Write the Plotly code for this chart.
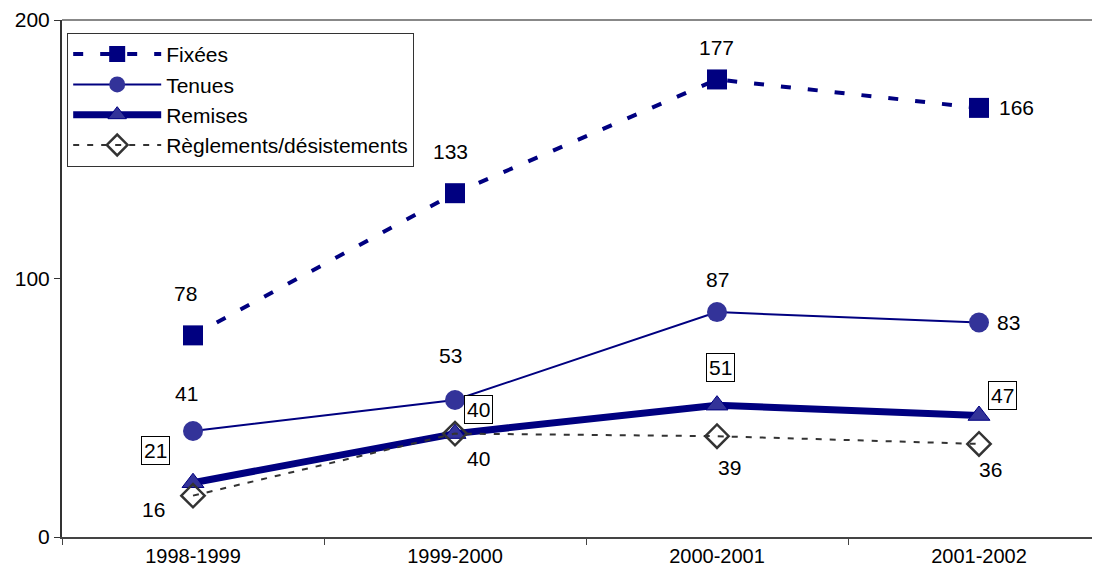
import plotly.graph_objects as go

categories = ["1998-1999", "1999-2000", "2000-2001", "2001-2002"]
fixees = [78, 133, 177, 166]
tenues = [41, 53, 87, 83]
remises = [21, 40, 51, 47]
reglements = [16, 40, 39, 36]
y_ticks = [0, 100, 200]

NAVY = "#000080"
BLUE = "#333399"
DARK = "#333333"
FONT = "Liberation Sans, Arial, sans-serif"

fig = go.Figure()
fig.add_trace(go.Scatter(
    x=categories, y=fixees, name="Fixées", mode="lines+markers",
    line=dict(color=NAVY, width=4, dash="10px,17px"),
    marker=dict(symbol="square", size=20, color=NAVY)))
fig.add_trace(go.Scatter(
    x=categories, y=tenues, name="Tenues", mode="lines+markers",
    line=dict(color=NAVY, width=2),
    marker=dict(symbol="circle", size=20, color=BLUE)))
fig.add_trace(go.Scatter(
    x=categories, y=remises, name="Remises", mode="lines+markers",
    line=dict(color=NAVY, width=7),
    marker=dict(symbol="triangle-up", size=19, color=BLUE, line=dict(color=NAVY, width=1))))
fig.add_trace(go.Scatter(
    x=categories, y=reglements, name="Règlements/désistements", mode="lines+markers",
    line=dict(color=DARK, width=2, dash="6px,8px"),
    marker=dict(symbol="diamond-open", size=18, color=DARK, line=dict(color=DARK, width=2.5))))

# label offsets (px) per series
label_specs = [
    (fixees, [(-8, 42), (-5, 42), (-1, 32), (37, 0)], False),
    (tenues, [(-7, 38), (-5, 45), (0, 33), (29, 0)], False),
    (remises, [(-38, 32), (23, 24), (3, 38), (23, 20)], True),
    (reglements, [(-40, -14), (23, -25), (12, -31), (11, -26)], False),
]
for values, offsets, boxed in label_specs:
    for cat, v, (dx, dy) in zip(categories, values, offsets):
        ann = dict(x=cat, y=v, text=str(v), showarrow=False, xshift=dx, yshift=dy,
                   font=dict(family=FONT, size=21, color="black"))
        if boxed:
            ann.update(bordercolor="black", borderwidth=1, bgcolor="white", borderpad=2)
        fig.add_annotation(**ann)

# top border of plot area
fig.add_shape(type="line", xref="paper", yref="paper", x0=0, x1=1, y0=1, y1=1,
              line=dict(color="#888888", width=2))

fig.update_layout(
    width=1092, height=569,
    margin=dict(l=54, r=0, t=12, b=40),
    paper_bgcolor="white", plot_bgcolor="white",
    font=dict(family=FONT, size=20, color="black"),
    showlegend=True,
    legend=dict(x=0.005, y=0.975, xanchor="left", yanchor="top",
                bgcolor="white", bordercolor="#333333", borderwidth=1,
                font=dict(family=FONT, size=21, color="black"),
                tracegroupgap=0, itemwidth=88),
)
fig.update_xaxes(
    type="category", range=[-0.5, 3.5 - 10 / 262],
    showline=True, linecolor="#444444", linewidth=2,
    ticks="outside", tickson="boundaries", ticklen=6, tickcolor="#444444",
    showgrid=False, zeroline=False,
    tickfont=dict(family=FONT, size=20, color="black"),
)
fig.update_yaxes(
    range=[0, 200], tickvals=y_ticks,
    showline=True, linecolor="#333333", linewidth=2,
    ticks="outside", ticklen=6, tickcolor="#333333",
    showgrid=False, zeroline=False,
    tickfont=dict(family=FONT, size=21, color="black"),
)

fig.write_html("out.html")
